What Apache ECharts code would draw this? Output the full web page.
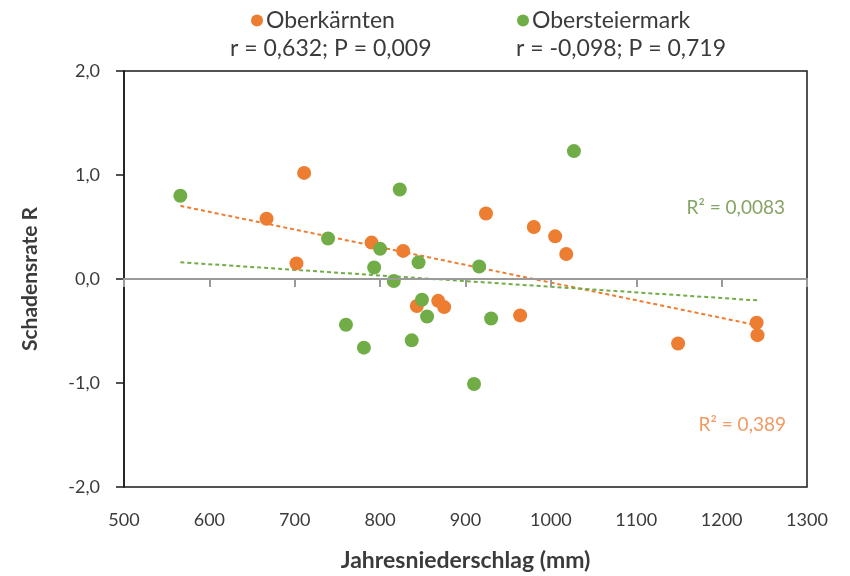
<!DOCTYPE html>
<html>
<head>
<meta charset="utf-8">
<script src="https://cdn.jsdelivr.net/npm/echarts@6/dist/echarts.min.js"></script>
<style>
  html, body { margin: 0; padding: 0; background: #fff; }
  #chart { width: 850px; height: 576px; }
</style>
</head>
<body>
<div id="chart"></div>
<script>
// Annual precipitation (mm) vs. damage rate R per region
const seriesNames = ['Oberkärnten', 'Obersteiermark'];

const kaerntenX = [667, 711, 702, 790, 827, 843, 868, 875, 924, 964, 980, 1005, 1018, 1149, 1241, 1242];
const kaerntenY = [0.58, 1.02, 0.15, 0.35, 0.27, -0.26, -0.21, -0.27, 0.63, -0.35, 0.50, 0.41, 0.24, -0.62, -0.42, -0.54];

const steiermarkX = [566, 739, 793, 800, 823, 816, 845, 849, 855, 760, 781, 837, 916, 930, 910, 1027];
const steiermarkY = [0.80, 0.39, 0.11, 0.29, 0.86, -0.02, 0.16, -0.20, -0.36, -0.44, -0.66, -0.59, 0.12, -0.38, -1.01, 1.23];

const statsText = ['r = 0,632; P = 0,009', 'r = -0,098; P = 0,719'];
const r2Text = ['R² = 0,389', 'R² = 0,0083'];

const xTicks = { min: 500, max: 1300, interval: 100 };
const yTicks = { min: -2, max: 2, interval: 1 };

const ORANGE = '#ED7D31';
const GREEN = '#70AD47';
const FONT = 'Lato, "Open Sans", sans-serif';
const TEXT = '#3b3b3b';

function zip(xs, ys) { return xs.map((x, i) => [x, ys[i]]); }

// Least-squares linear trend over the full x extent of both samples
function trend(xs, ys, x0, x1) {
  const n = xs.length;
  const mx = xs.reduce((a, b) => a + b, 0) / n;
  const my = ys.reduce((a, b) => a + b, 0) / n;
  let sxy = 0, sxx = 0;
  for (let i = 0; i < n; i++) {
    sxy += (xs[i] - mx) * (ys[i] - my);
    sxx += (xs[i] - mx) * (xs[i] - mx);
  }
  const b = sxy / sxx, a = my - b * mx;
  return [[x0, a + b * x0], [x1, a + b * x1]];
}

const allX = kaerntenX.concat(steiermarkX);
const xLo = Math.min(...allX), xHi = Math.max(...allX);

const fmtY = v => v.toFixed(1).replace('.', ',');
const fmtX = v => String(v);

const chart = echarts.init(document.getElementById('chart'), null, { renderer: 'canvas' });

chart.setOption({
  animation: false,
  textStyle: { fontFamily: FONT },
  grid: {
    left: 124, right: 43, top: 71, bottom: 89,
    outerBoundsMode: 'none',
    show: true, borderColor: '#1a1a1a', borderWidth: 1.5
  },
  legend: [
    { data: [seriesNames[0]], left: 246, top: 4, icon: 'circle', itemWidth: 12, itemHeight: 12, itemGap: 6,
      textStyle: { fontFamily: FONT, fontSize: 23, color: TEXT, padding: [0, 0, 0, -2] } },
    { data: [seriesNames[1]], left: 512, top: 4, icon: 'circle', itemWidth: 12, itemHeight: 12, itemGap: 6,
      textStyle: { fontFamily: FONT, fontSize: 23, color: TEXT, padding: [0, 0, 0, -2] } }
  ],
  graphic: [
    { type: 'text', left: 230, top: 37, style: { text: statsText[0], font: '23px ' + FONT, fill: TEXT } },
    { type: 'text', left: 516, top: 37, style: { text: statsText[1], font: '23px ' + FONT, fill: TEXT } },
    { type: 'text', right: 65, top: 198, style: { text: r2Text[1], font: '19px ' + FONT, fill: '#86a465' } },
    { type: 'text', right: 64, top: 415, style: { text: r2Text[0], font: '19px ' + FONT, fill: '#f29a62' } }
  ],
  xAxis: [
    {
      type: 'value', position: 'bottom', min: xTicks.min, max: xTicks.max, interval: xTicks.interval,
      axisLine: { show: false, onZero: false }, axisTick: { show: false }, splitLine: { show: false },
      axisLabel: { fontSize: 18, color: TEXT, margin: 24, fontFamily: FONT, formatter: fmtX },
      name: 'Jahresniederschlag (mm)', nameLocation: 'middle', nameGap: 62,
      nameTextStyle: { fontSize: 23, fontWeight: 'bold', color: TEXT, fontFamily: FONT }
    },
    {
      type: 'value', position: 'top', min: xTicks.min, max: xTicks.max, interval: xTicks.interval, z: 5,
      axisLine: { show: true, onZero: true, onZeroAxisIndex: 0, lineStyle: { color: '#9a9a9a', width: 2 } },
      axisTick: { show: true, inside: true, length: 8, lineStyle: { color: '#9a9a9a', width: 2 } },
      axisLabel: { show: false }, splitLine: { show: false }
    }
  ],
  yAxis: {
    type: 'value', min: yTicks.min, max: yTicks.max, interval: yTicks.interval,
    axisLine: { show: true, onZero: false, lineStyle: { color: '#1a1a1a', width: 1.5 } },
    axisTick: { show: true, length: 8, lineStyle: { color: '#1a1a1a', width: 1.5 } },
    splitLine: { show: false },
    axisLabel: { fontSize: 18, color: TEXT, margin: 24, formatter: fmtY, fontFamily: FONT },
    name: 'Schadensrate R', nameLocation: 'middle', nameGap: 83,
    nameTextStyle: { fontSize: 21, fontWeight: 'bold', color: TEXT, fontFamily: FONT }
  },
  series: [
    {
      name: seriesNames[0] + ' Trend', type: 'line', xAxisIndex: 0, silent: true, symbol: 'none', z: 1,
      data: trend(kaerntenX, kaerntenY, xLo, xHi),
      lineStyle: { color: ORANGE, width: 2, type: [4, 3] }
    },
    {
      name: seriesNames[1] + ' Trend', type: 'line', xAxisIndex: 0, silent: true, symbol: 'none', z: 1,
      data: trend(steiermarkX, steiermarkY, xLo, xHi),
      lineStyle: { color: GREEN, width: 2, type: [4, 3] }
    },
    {
      name: seriesNames[0], type: 'scatter', xAxisIndex: 0, symbolSize: 14, z: 3,
      itemStyle: { color: ORANGE, opacity: 1 },
      data: zip(kaerntenX, kaerntenY)
    },
    {
      name: seriesNames[1], type: 'scatter', xAxisIndex: 0, symbolSize: 14, z: 3,
      itemStyle: { color: GREEN, opacity: 1 },
      data: zip(steiermarkX, steiermarkY)
    }
  ]
});
</script>
</body>
</html>
